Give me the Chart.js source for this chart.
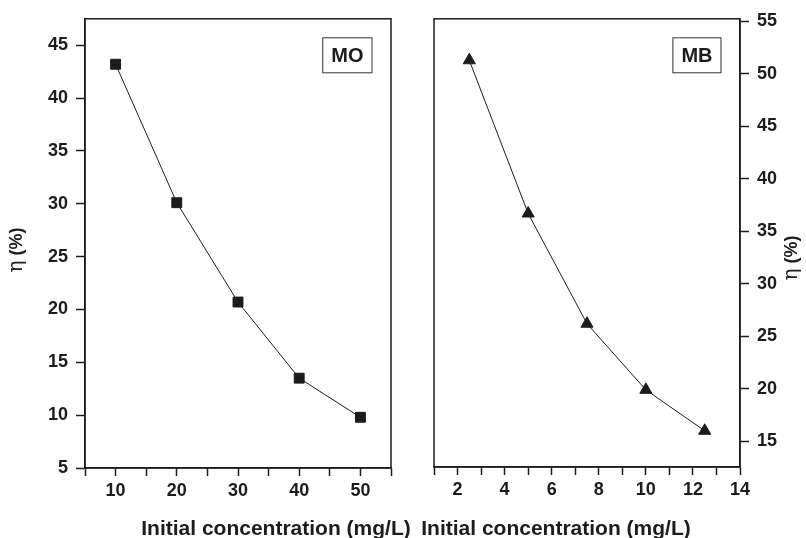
<!DOCTYPE html>
<html>
<head>
    <title>MO / MB removal efficiency</title>
    <style>
        body { margin: 0; background: #fff; }
        .wrap { position: relative; width: 806px; height: 538px; }
        .wrap canvas { position: absolute; left: 0; top: 0; }
    </style>
</head>
<body>
    <div class="wrap">
        <canvas id="chartMO" width="806" height="538"></canvas>
        <canvas id="chartMB" width="806" height="538"></canvas>
    </div>

    <script src="https://cdn.jsdelivr.net/npm/chart.js"></script>
    <script>
        // MO panel (left)
        const moConc = [10, 20, 30, 40, 50];
        const moEta = [43.2, 30.1, 20.7, 13.5, 9.8];
        // MB panel (right)
        const mbConc = [2.5, 5, 7.5, 10, 12.5];
        const mbEta = [51.3, 36.7, 26.2, 19.9, 16.0];

        const xTitle = 'Initial concentration (mg/L)';
        const yTitle = '(%)';
        const ink = '#1c1c1c';
        const sans = "'Liberation Sans', Arial, sans-serif";

        function toPoints(xs, ys) {
            return xs.map((x, i) => ({ x: x, y: ys[i] }));
        }

        // frame, boxed tag and axis titles
        const panelPlugin = {
            id: 'panel',
            afterDraw(chart, args, opts) {
                const ctx = chart.ctx;
                const a = chart.chartArea;
                ctx.save();
                ctx.strokeStyle = ink;
                ctx.lineWidth = 1.5;
                ctx.strokeRect(a.left, a.top, a.right - a.left, a.bottom - a.top);

                // tag box
                ctx.font = 'bold 20px ' + sans;
                const tw = ctx.measureText(opts.tag).width;
                const bw = tw + 17, bh = 35;
                const bx = a.right - 19 - bw, by = a.top + 19;
                ctx.lineWidth = 1;
                ctx.strokeStyle = '#333';
                ctx.strokeRect(bx, by, bw, bh);
                ctx.fillStyle = ink;
                ctx.textAlign = 'center';
                ctx.textBaseline = 'middle';
                ctx.fillText(opts.tag, bx + bw / 2, by + bh / 2 + 1);

                // x title
                ctx.font = 'bold 21px ' + sans;
                ctx.textBaseline = 'alphabetic';
                ctx.fillText(xTitle, opts.xTitleX, 535);

                // y title: eta (serif) + (%) rotated, reading bottom to top
                ctx.translate(opts.yTitleX, opts.yTitleY);
                ctx.rotate(-Math.PI / 2);
                ctx.font = '20px "DejaVu Serif", serif';
                const ew = ctx.measureText('η').width;
                ctx.font = 'bold 18px ' + sans;
                const pw = ctx.measureText(' ' + yTitle).width;
                let x0 = -(ew + pw) / 2;
                ctx.textAlign = 'left';
                ctx.textBaseline = 'middle';
                ctx.font = '20px "DejaVu Serif", serif';
                ctx.fillText('η', x0, 0);
                ctx.font = 'bold 18px ' + sans;
                ctx.fillText(' ' + yTitle, x0 + ew, 0);
                ctx.restore();
            }
        };

        function makeChart(id, xs, ys, style, cfg) {
            return new Chart(document.getElementById(id), {
                type: 'line',
                data: {
                    datasets: [{
                        data: toPoints(xs, ys),
                        borderColor: ink,
                        borderWidth: 1,
                        backgroundColor: ink,
                        pointStyle: style,
                        pointRadius: 7,
                        pointBorderWidth: 1,
                        pointBorderColor: ink,
                        pointBackgroundColor: ink,
                        tension: 0
                    }]
                },
                options: {
                    responsive: false,
                    animation: false,
                    layout: { padding: cfg.padding },
                    plugins: {
                        legend: { display: false },
                        tooltip: { enabled: false },
                        panel: cfg.panel
                    },
                    scales: {
                        x: {
                            type: 'linear',
                            min: cfg.xMin,
                            max: cfg.xMax,
                            afterFit: s => { s.height = cfg.xHeight; },
                            grid: { drawOnChartArea: false, tickLength: 8, tickColor: ink, tickWidth: 1.5 },
                            border: { color: ink, width: 1.5 },
                            ticks: {
                                stepSize: cfg.xStep,
                                autoSkip: false,
                                maxRotation: 0,
                                padding: 4,
                                color: ink,
                                font: { family: sans, size: 18, weight: 'bold' },
                                callback: v => (cfg.xLabels.includes(v) ? String(v) : '')
                            }
                        },
                        y: {
                            position: cfg.yPos,
                            min: cfg.yMin,
                            max: cfg.yMax,
                            afterFit: s => { s.width = cfg.yWidth; },
                            grid: { drawOnChartArea: false, tickLength: 9, tickColor: ink, tickWidth: 1.5 },
                            border: { color: ink, width: 1.5 },
                            ticks: {
                                stepSize: 5,
                                includeBounds: false,
                                padding: 8,
                                color: ink,
                                font: { family: sans, size: 18, weight: 'bold' }
                            }
                        }
                    }
                },
                plugins: [panelPlugin]
            });
        }

        makeChart('chartMO', moConc, moEta, 'rect', {
            padding: { left: 0, right: 415, top: 13, bottom: 0 },
            xMin: 5, xMax: 55, xStep: 5, xLabels: [10, 20, 30, 40, 50], xHeight: 70,
            yPos: 'left', yMin: 5, yMax: 47.5, yWidth: 85,
            panel: { tag: 'MO', xTitleX: 276, yTitleX: 17, yTitleY: 250 }
        });

        makeChart('chartMB', mbConc, mbEta, 'triangle', {
            padding: { left: 434, right: 0, top: 13, bottom: 0 },
            xMin: 1, xMax: 14, xStep: 1, xLabels: [2, 4, 6, 8, 10, 12, 14], xHeight: 71,
            yPos: 'right', yMin: 12.55, yMax: 55.25, yWidth: 66,
            panel: { tag: 'MB', xTitleX: 556, yTitleX: 792, yTitleY: 258 }
        });
    </script>
</body>
</html>
